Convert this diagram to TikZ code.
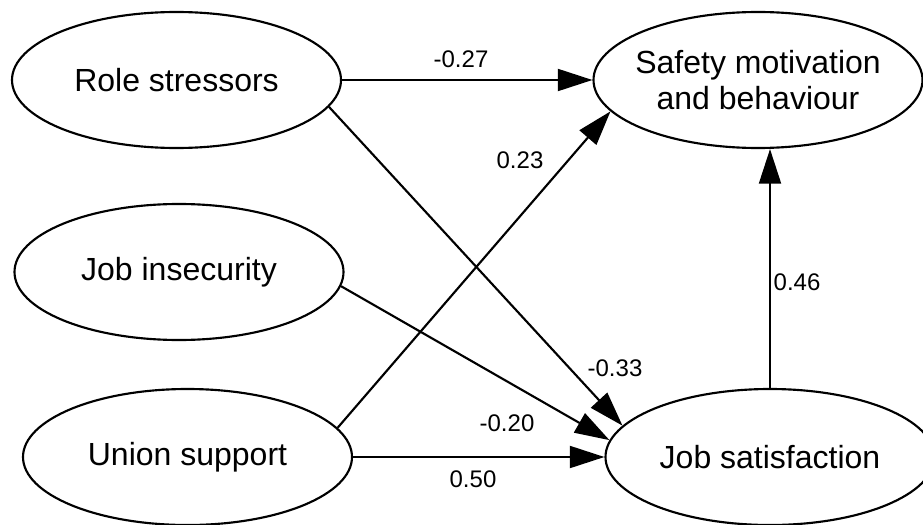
\documentclass[tikz,border=0pt]{standalone}
\usepackage{fontspec}
\setmainfont{Liberation Sans}
\usetikzlibrary{arrows.meta,shapes.geometric}

\tikzset{
  factor/.style={ellipse, draw, line width=1.6pt, minimum width=246.75pt,
    minimum height=102pt, inner sep=0pt,
    font=\fontsize{24}{27}\selectfont},
  path/.style={line width=1.6pt,
    -{Triangle[length=26pt,width=16.5pt]}},
  coef/.style={inner sep=0pt, font=\fontsize{18}{20}\selectfont}
}

\begin{document}
\begin{tikzpicture}[x=0.75pt, y=-0.75pt]
  \useasboundingbox (0,0) rectangle (923,524);

  % latent factors
  \node[factor] (rs) at (176.5,80) {Role stressors};
  \node[factor] (ji) at (179,272) {Job insecurity};
  \node[factor] (us) at (187.5,457) {Union support};
  \node[factor, label={[align=center, font=\fontsize{24}{27}\selectfont]center:Safety motivation\\and behaviour}] (sm) at (758,80) {};
  \node[factor] (js) at (770,457) {Job satisfaction};

  % structural paths
  \draw[path] (rs.east) -- (sm.west);
  \draw[path] (us.11.7) -- (sm.192.2);
  \draw[path] (rs.-10.5) -- (js.168.7);
  \draw[path] (ji.-5.3) -- (js.174);
  \draw[path] (us.east) -- (js.west);
  \draw[path] (js.north) -- (js.north |- sm.south);

  % path coefficients
  \node[coef] (c1) at (461,59) {-0.27};
  \node[coef] (c2) at (520,160) {0.23};
  \node[coef] (c3) at (615,368) {-0.33};
  \node[coef] (c4) at (507,423) {-0.20};
  \node[coef] (c5) at (473,479) {0.50};
  \node[coef] (c6) at (797,282) {0.46};
\end{tikzpicture}
\end{document}
